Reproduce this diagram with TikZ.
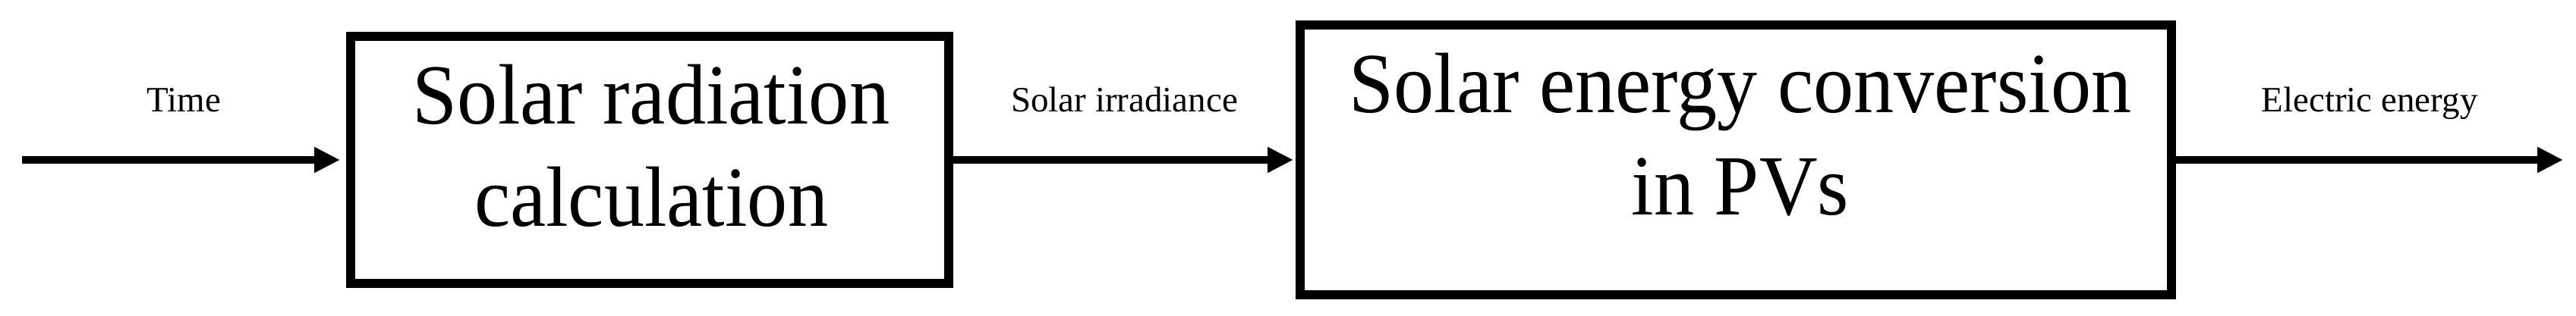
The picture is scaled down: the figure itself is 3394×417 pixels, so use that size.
\documentclass[tikz,border=0pt]{standalone}
\usepackage{fontspec}
\setmainfont{Liberation Serif}
\newfontfamily\blockfont[FakeStretch=0.94]{Liberation Serif}
\usetikzlibrary{arrows.meta}
\usetikzlibrary{positioning}

\tikzset{
	block/.style={draw, line width=12pt, inner sep=0pt},
	blocktext/.style={font=\blockfont\fontsize{113}{135}\selectfont, align=center, inner sep=0pt},
	flow/.style={line width=10pt, -{Triangle[length=34pt,width=32pt]}},
	flowlabel/.style={font=\fontsize{47}{56}\selectfont, anchor=base, inner sep=0pt, yshift=64pt}
}

\begin{document}
\begin{tikzpicture}[x=1pt,y=-1pt]
		\useasboundingbox (0,0) rectangle (3394,417);
		
		% the two blocks
		\node[block, minimum width=788pt, minimum height=326pt] (radcalc) at (856,211) {};
		\node[blocktext, anchor=north] (radtext) at (858,85) {Solar radiation\\calculation};
		
		\node[block, minimum width=1148pt, minimum height=356pt] (pvconv) at (2287,211) {};
		\node[blocktext, anchor=north] (pvtext) at (2293,70) {Solar energy conversion\\in PVs};
		
		% input and output ends
		\coordinate (timein) at (29,211);
		\coordinate (elecout) at (3377,211);
		
		% signal flow
		\draw[flow, shorten >=8pt] (timein) -- (radcalc) node[flowlabel, midway] (timelbl) {Time};
		\draw[flow, shorten >=3pt] (radcalc) -- (pvconv) node[flowlabel, midway] (irrlbl) {Solar irradiance};
		\draw[flow] (pvconv) -- (elecout) node[flowlabel, midway] (eleclbl) {Electric energy};
	\end{tikzpicture}
\end{document}
